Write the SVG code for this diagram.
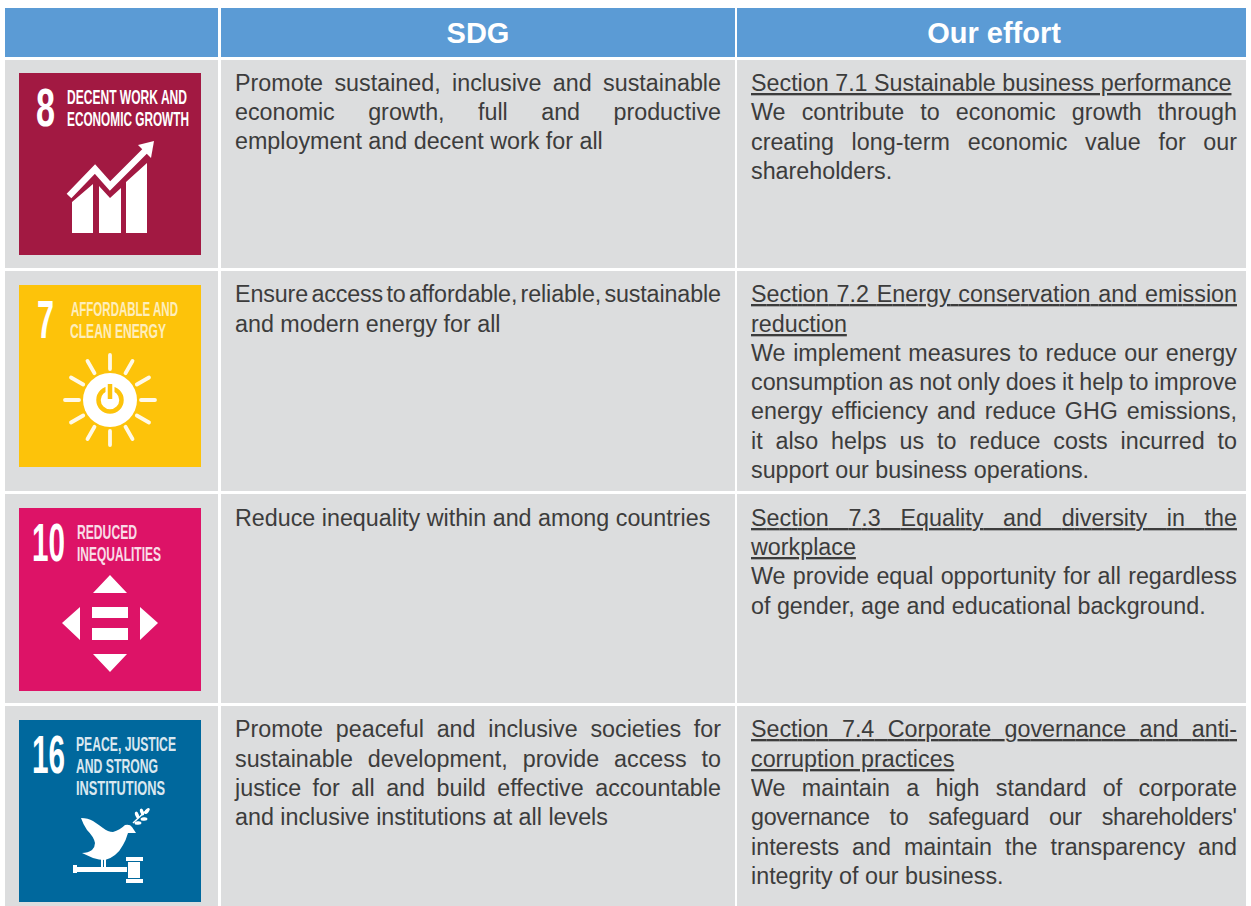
<svg xmlns="http://www.w3.org/2000/svg" width="1251" height="906" viewBox="0 0 1251 906">
<style>
.h{fill:#5b9bd5}
.c{fill:#dcddde}
.ht{font:bold 29px "Liberation Sans",Arial,sans-serif;fill:#fff;text-anchor:middle}
.t{font:23.3px "Liberation Sans",Arial,sans-serif;fill:#3c3c3c}
.u{text-decoration:underline}
.n{font:bold 54px "Liberation Sans",Arial,sans-serif;fill:#fff}
.l{font:bold 20px "Liberation Sans",Arial,sans-serif;fill:#fff}
.w{fill:#fff}
.ray{stroke:#fff;stroke-width:3.8;stroke-linecap:round;fill:none;opacity:.9}
</style>
<rect width="1251" height="906" fill="#fff"/>
<g id="header">
<rect class="h" x="5" y="8" width="213" height="49"/>
<rect class="h" x="221" y="8" width="514" height="49"/>
<rect class="h" x="737" y="8" width="509" height="49"/>
<text class="ht" x="478" y="43">SDG</text>
<text class="ht" x="994" y="43">Our effort</text>
</g>
<g id="row-8">
<rect class="c" x="5" y="60" width="213" height="208"/>
<rect class="c" x="221" y="60" width="514" height="208"/>
<rect class="c" x="737" y="60" width="509" height="208"/>
<g id="icon-8">
<rect x="19" y="73" width="182" height="182" fill="#a21942"/>
<text class="n" x="36" y="126" textLength="19" lengthAdjust="spacingAndGlyphs">8</text>
<text class="l" x="67" y="104" textLength="120" lengthAdjust="spacingAndGlyphs">DECENT WORK AND</text>
<text class="l" x="67" y="126" textLength="122" lengthAdjust="spacingAndGlyphs">ECONOMIC GROWTH</text>
<path class="w" d="M72 202L93 184V233H72ZM99 186L110 198L121 188V233H99ZM126 182L147 163V233H126Z"/>
<path d="M69 196L95 169L110 186L145 151" fill="none" stroke="#a21942" stroke-width="10"/>
<path d="M69 196L95 169L110 186L145 151" fill="none" stroke="#fff" stroke-width="6.5"/>
<path class="w" d="M154 141L138 145L151 158Z"/>
</g>
<text class="t" x="235" y="91" textLength="486" word-spacing="4.9">Promote sustained, inclusive and sustainable</text>
<text class="t" x="235" y="120" textLength="486" word-spacing="26.9">economic growth, full and productive</text>
<text class="t" x="235" y="149">employment and decent work for all</text>
<text class="t u" x="751" y="91">Section 7.1 Sustainable business performance</text>
<text class="t" x="751" y="120" textLength="486" word-spacing="9.6">We contribute to economic growth through</text>
<text class="t" x="751" y="150" textLength="486" word-spacing="11.2">creating long-term economic value for our</text>
<text class="t" x="751" y="179">shareholders.</text>
</g>
<g id="row-7">
<rect class="c" x="5" y="271" width="213" height="220"/>
<rect class="c" x="221" y="271" width="514" height="220"/>
<rect class="c" x="737" y="271" width="509" height="220"/>
<g id="icon-7">
<rect x="19" y="285" width="182" height="182" fill="#fdc30a"/>
<text class="n" x="37" y="338" textLength="17" lengthAdjust="spacingAndGlyphs">7</text>
<g opacity=".72">
<text class="l" x="71" y="316" textLength="107" lengthAdjust="spacingAndGlyphs">AFFORDABLE AND</text>
<text class="l" x="70" y="338" textLength="96" lengthAdjust="spacingAndGlyphs">CLEAN ENERGY</text>
</g>
<circle class="w" cx="110" cy="400" r="27"/>
<circle cx="110" cy="400" r="11.5" fill="none" stroke="#fdc30a" stroke-width="4.5"/>
<path d="M110 385V400" stroke="#fff" stroke-width="9"/>
<path d="M110 384V399" stroke="#fdc30a" stroke-width="4.5"/>
<path class="ray" d="M110 355V369M110 431V445M65 400H79M141 400H155M87.500 361L94.500 373.200M125.500 426.800L132.500 439M71 377.500L83.200 384.500M136.800 415.500L149 422.500M71 422.500L83.200 415.500M136.800 384.500L149 377.500M87.500 439L94.500 426.800M125.500 373.200L132.500 361"/>
</g>
<text class="t" x="235" y="302" textLength="486" word-spacing="-3">Ensure access to affordable, reliable, sustainable</text>
<text class="t" x="235" y="332">and modern energy for all</text>
<text class="t u" x="751" y="302" textLength="486" word-spacing="1.3">Section 7.2 Energy conservation and emission</text>
<text class="t u" x="751" y="332">reduction</text>
<text class="t" x="751" y="361" textLength="486" word-spacing="1.1">We implement measures to reduce our energy</text>
<text class="t" x="751" y="390" textLength="486" word-spacing="-.8">consumption as not only does it help to improve</text>
<text class="t" x="751" y="419" textLength="486" word-spacing="2.4">energy efficiency and reduce GHG emissions,</text>
<text class="t" x="751" y="449" textLength="486" word-spacing="6.3">it also helps us to reduce costs incurred to</text>
<text class="t" x="751" y="478">support our business operations.</text>
</g>
<g id="row-10">
<rect class="c" x="5" y="494" width="213" height="209"/>
<rect class="c" x="221" y="494" width="514" height="209"/>
<rect class="c" x="737" y="494" width="509" height="209"/>
<g id="icon-10">
<rect x="19" y="508" width="182" height="183" fill="#dd1367"/>
<text class="n" x="32" y="561" textLength="33" lengthAdjust="spacingAndGlyphs">10</text>
<g opacity=".85">
<text class="l" x="77" y="539" textLength="60" lengthAdjust="spacingAndGlyphs">REDUCED</text>
<text class="l" x="77" y="561" textLength="84" lengthAdjust="spacingAndGlyphs">INEQUALITIES</text>
</g>
<path class="w" d="M110 575L127 593H93ZM62 623L80 607V640ZM158 623L140 607V640ZM93 654H127L110 672ZM92 607H128V618H92ZM92 628H128V640H92Z"/>
</g>
<text class="t" x="235" y="526">Reduce inequality within and among countries</text>
<text class="t u" x="751" y="526" textLength="486" word-spacing="13.2">Section 7.3 Equality and diversity in the</text>
<text class="t u" x="751" y="555">workplace</text>
<text class="t" x="751" y="584" textLength="486" word-spacing=".7">We provide equal opportunity for all regardless</text>
<text class="t" x="751" y="614">of gender, age and educational background.</text>
</g>
<g id="row-16">
<rect class="c" x="5" y="706" width="213" height="200"/>
<rect class="c" x="221" y="706" width="514" height="200"/>
<rect class="c" x="737" y="706" width="509" height="200"/>
<g id="icon-16">
<rect x="19" y="720" width="182" height="182" fill="#00689d"/>
<text class="n" x="32" y="773" textLength="33" lengthAdjust="spacingAndGlyphs">16</text>
<g opacity=".85">
<text class="l" x="76" y="751" textLength="100" lengthAdjust="spacingAndGlyphs">PEACE, JUSTICE</text>
<text class="l" x="76" y="773" textLength="82" lengthAdjust="spacingAndGlyphs">AND STRONG</text>
<text class="l" x="76" y="795" textLength="89" lengthAdjust="spacingAndGlyphs">INSTITUTIONS</text>
</g>
<path class="w" d="M81 818Q88 818 93 821Q99 825 103 828Q108 832 113 832Q120 830 125 825Q130 824 132 827L136 833L128 833Q126 840 123 845Q120 851 115 855Q110 859 105 860Q99 860 93 858L82 853Q88 853 92 850Q95 847 95 843Q94 837 87 830Q83 824 81 818Z"/>
<path class="w" d="M101 858H103V868H101ZM104 858H106V868H104ZM73 867H127V872H73ZM73 865H77V873H73ZM128 862H140V878H128ZM126 857H143V861H126ZM126 879H143V883H126Z"/>
<path d="M133 823L147 810" stroke="#fff" stroke-width="1.500"/>
<ellipse class="w" cx="137" cy="815" rx="3.500" ry="1.800" transform="rotate(70 137 815)"/>
<ellipse class="w" cx="142" cy="812" rx="3.500" ry="1.800" transform="rotate(70 142 812)"/>
<ellipse class="w" cx="138" cy="823" rx="3.500" ry="1.800" transform="rotate(-5 138 823)"/>
<ellipse class="w" cx="144" cy="819" rx="3.500" ry="1.800" transform="rotate(-5 144 819)"/>
<ellipse class="w" cx="147" cy="811" rx="3.500" ry="1.800" transform="rotate(-50 147 811)"/>
</g>
<text class="t" x="235" y="737" textLength="486" word-spacing="6.3">Promote peaceful and inclusive societies for</text>
<text class="t" x="235" y="767" textLength="486" word-spacing="8.5">sustainable development, provide access to</text>
<text class="t" x="235" y="796" textLength="486" word-spacing="5">justice for all and build effective accountable</text>
<text class="t" x="235" y="825">and inclusive institutions at all levels</text>
<text class="t u" x="751" y="737" textLength="486" word-spacing="7">Section 7.4 Corporate governance and anti-</text>
<text class="t u" x="751" y="767">corruption practices</text>
<text class="t" x="751" y="796" textLength="486" word-spacing="9.8">We maintain a high standard of corporate</text>
<text class="t" x="751" y="825" textLength="486" word-spacing="13.8">governance to safeguard our shareholders'</text>
<text class="t" x="751" y="855" textLength="486" word-spacing="6.5">interests and maintain the transparency and</text>
<text class="t" x="751" y="884">integrity of our business.</text>
</g>
</svg>
